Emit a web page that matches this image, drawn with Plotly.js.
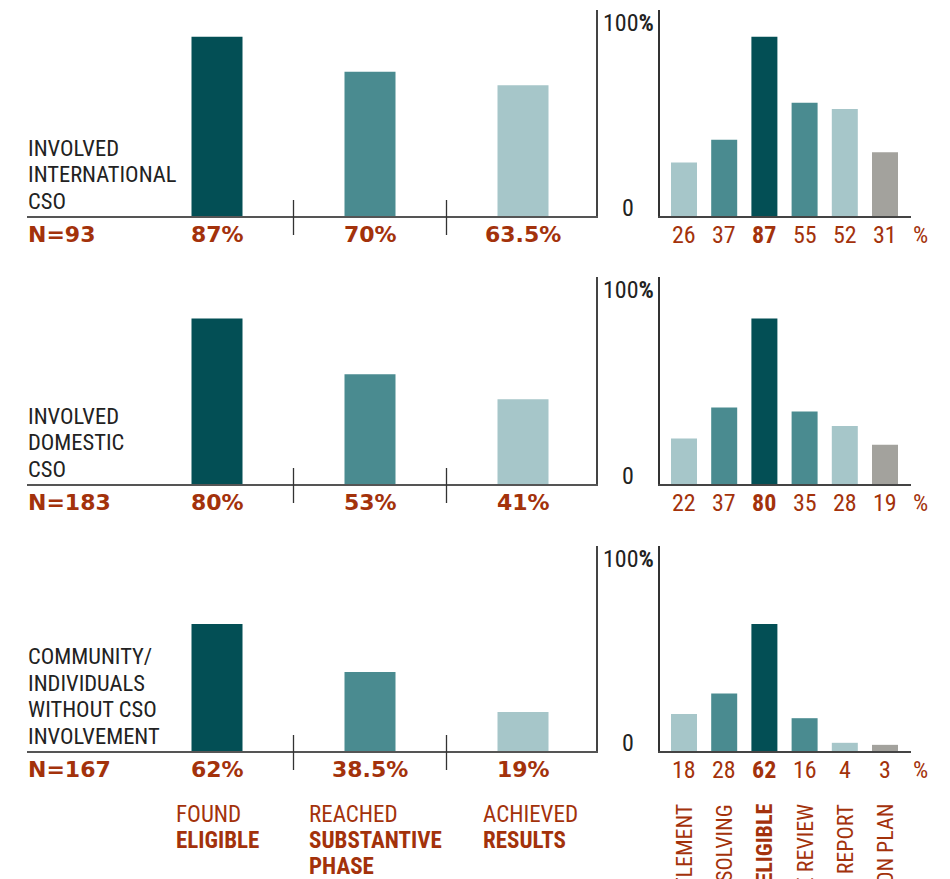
<!DOCTYPE html>
<html><head><meta charset="utf-8">
<script src="https://cdn.plot.ly/plotly-3.0.1.min.js"></script>
<style>html,body{margin:0;padding:0;background:#fff}#chart{width:950px;height:879px}</style>
</head><body><div id="chart"></div>
<script>
// ---------- data ----------
const groupLines = [["INVOLVED","INTERNATIONAL","CSO"],["INVOLVED","DOMESTIC","CSO"],["COMMUNITY/","INDIVIDUALS","WITHOUT CSO","INVOLVEMENT"]];
const groupN = [93, 183, 167];
const stageCats = ["FOUND ELIGIBLE","REACHED SUBSTANTIVE PHASE","ACHIEVED RESULTS"];
const stageLines = [["FOUND","<b>ELIGIBLE</b>"],["REACHED","<b>SUBSTANTIVE</b>","<b>PHASE</b>"],["ACHIEVED","<b>RESULTS</b>"]];
const stageValues = [[87, 70, 63.5],[80, 53, 41],[62, 38.5, 19]];
const outcomeCats = ["DISPUTE SETTLEMENT","PROBLEM SOLVING","FOUND ELIGIBLE","COMPLIANCE REVIEW","COMPLIANCE REPORT","ACTION PLAN"];
const outcomeLabels = ["DISPUTE SETTLEMENT","PROBLEM SOLVING","FOUND <b>ELIGIBLE</b>","COMPLIANCE REVIEW","COMPLIANCE REPORT","ACTION PLAN"];
const outcomeValues = [[26, 37, 87, 55, 52, 31],[22, 37, 80, 35, 28, 19],[18, 28, 62, 16, 4, 3]];
const highlightIdx = 2;

// ---------- styles ----------
const W = 950, H = 879;
const DARK = '#034f55', MID = '#4a8b90', LIGHT = '#a6c6c9', GRAY = '#a3a29d';
const RED = '#a3320b', INK = '#222222';
const FN = "'Roboto Condensed', 'DejaVu Sans Condensed', sans-serif";
const FB = "'DejaVu Sans', sans-serif";
const stageColors = [DARK, MID, LIGHT];
const outcomeColors = [LIGHT, MID, DARK, MID, LIGHT, GRAY];

const px = v => v / W;
const py = v => 1 - v / H;

const BASE = [216, 484, 751];
const TOP = [10, 277, 546];
const L0 = 27, L1 = 596, LC = 217, LS = 153;   // left panel geometry (px)
const R0 = 660, R1 = 911, RC = 684, RS = 40.2; // right panel geometry (px)
const stageLabelLeft = [175, 308, 482];         // left edge of bottom label blocks (px)

const data = [], annotations = [], shapes = [];
const layout = {
  width: W, height: H, margin: {l:0, r:0, t:0, b:0},
  paper_bgcolor: '#fff', plot_bgcolor: 'rgba(0,0,0,0)', showlegend: false,
  font: {family: FN, color: INK},
  annotations, shapes
};
const ann = o => annotations.push(Object.assign({showarrow:false, borderpad:1}, o));

for (let r = 0; r < 3; r++) {
  const nL = 2*r + 1, nR = 2*r + 2;
  const xL = nL === 1 ? 'x' : 'x' + nL, yL = nL === 1 ? 'y' : 'y' + nL;
  const xR = 'x' + nR, yR = 'y' + nR;
  const ydom = [py(BASE[r]), py(TOP[r])];

  layout[nL === 1 ? 'xaxis' : 'xaxis' + nL] = {
    type:'category', domain:[px(L0), px(L1)], anchor:yL,
    range:[(L0-LC)/LS, (L1-LC)/LS], showline:true, linecolor:'#555', linewidth:1.5,
    showticklabels:false, ticks:'', showgrid:false, zeroline:false, fixedrange:true
  };
  layout[nL === 1 ? 'yaxis' : 'yaxis' + nL] = {
    domain:ydom, anchor:xL, side:'right', range:[0,100], showline:true, linecolor:'#444', linewidth:1.5,
    showticklabels:false, ticks:'', showgrid:false, zeroline:false, fixedrange:true
  };
  layout['xaxis' + nR] = {
    type:'category', domain:[px(R0), px(R1)], anchor:yR,
    range:[(R0-RC)/RS, (R1-RC)/RS], showline:true, linecolor:'#444', linewidth:2,
    showticklabels:false, ticks:'', showgrid:false, zeroline:false, fixedrange:true
  };
  layout['yaxis' + nR] = {
    domain:ydom, anchor:xR, side:'left', range:[0,100], showline:true, linecolor:'#333', linewidth:2,
    showticklabels:false, ticks:'', showgrid:false, zeroline:false, fixedrange:true
  };

  data.push({type:'bar', x:stageCats, y:stageValues[r], xaxis:xL, yaxis:yL,
    marker:{color:stageColors}, width:51/LS, hoverinfo:'skip'});
  data.push({type:'bar', x:outcomeCats, y:outcomeValues[r], xaxis:xR, yaxis:yR,
    marker:{color:outcomeColors}, width:26/RS, hoverinfo:'skip'});

  // separators between stage categories
  for (let i = 0; i < stageCats.length - 1; i++) {
    shapes.push({type:'line', xref:xL, yref:'paper', x0:i+0.5, x1:i+0.5,
      y0:py(BASE[r]-16), y1:py(BASE[r]+19), line:{color:'#333', width:1.3}});
  }

  // group label (line by line)
  const lines = groupLines[r];
  lines.forEach((t, k) => {
    const capBottom = BASE[r] - 7 - (lines.length - 1 - k) * 26.5;
    ann({xref:'paper', yref:'paper', x:px(L0-1), y:py(capBottom + 6.5), xanchor:'left', yanchor:'bottom',
      text:t, font:{family:FN, size:22.5, color:INK}});
  });

  // N label
  ann({xref:'paper', yref:'paper', x:px(L0-1), y:py(BASE[r] + 3.6), xanchor:'left', yanchor:'top',
    text:'<b>N=' + groupN[r] + '</b>', font:{family:FB, size:22, color:RED}});

  // stage percentages
  stageValues[r].forEach((v, i) => {
    ann({xref:xL, yref:'paper', x:stageCats[i], y:py(BASE[r] + 3.6), xanchor:'center', yanchor:'top',
      text:'<b>' + v + '%</b>', font:{family:FB, size:22, color:RED}});
  });

  // outcome values
  outcomeValues[r].forEach((v, i) => {
    ann({xref:xR, yref:'paper', x:outcomeCats[i], y:py(BASE[r] + 2.8), xanchor:'center', yanchor:'top',
      text: i === highlightIdx ? '<b>' + v + '</b>' : String(v), font:{family:FN, size:24, color:RED}});
  });
  ann({xref:'paper', yref:'paper', x:px(920), y:py(BASE[r] + 2.8), xanchor:'center', yanchor:'top',
    text:'%', font:{family:FN, size:24, color:RED}});

  // axis end labels
  ann({xref:'paper', yref:'paper', x:px(628), y:py(TOP[r] - 3.2), xanchor:'center', yanchor:'top',
    text:'100<b>%</b>', font:{family:FN, size:24, color:INK}});
  ann({xref:'paper', yref:'paper', x:px(628), y:py(BASE[r] + 7.8), xanchor:'center', yanchor:'bottom',
    text:'0', font:{family:FN, size:24, color:INK}});
}

// bottom stage labels (line by line, left-aligned blocks)
stageLines.forEach((lines, i) => {
  lines.forEach((t, k) => {
    ann({xref:'paper', yref:'paper', x:px(stageLabelLeft[i] - 1), y:py(805 + 26*k - 6), xanchor:'left', yanchor:'top',
      text:t, font:{family:FN, size:23, color:RED}});
  });
});

// rotated outcome labels
outcomeLabels.forEach((t, i) => {
  ann({xref:'x6', yref:'paper', x:outcomeCats[i], y:py(802), xanchor:'center', yanchor:'top',
    textangle:-90, text:t, font:{family:FN, size:22, color:RED}});
});

Plotly.newPlot('chart', data, layout, {displayModeBar:false, staticPlot:true});
</script>
</body></html>
